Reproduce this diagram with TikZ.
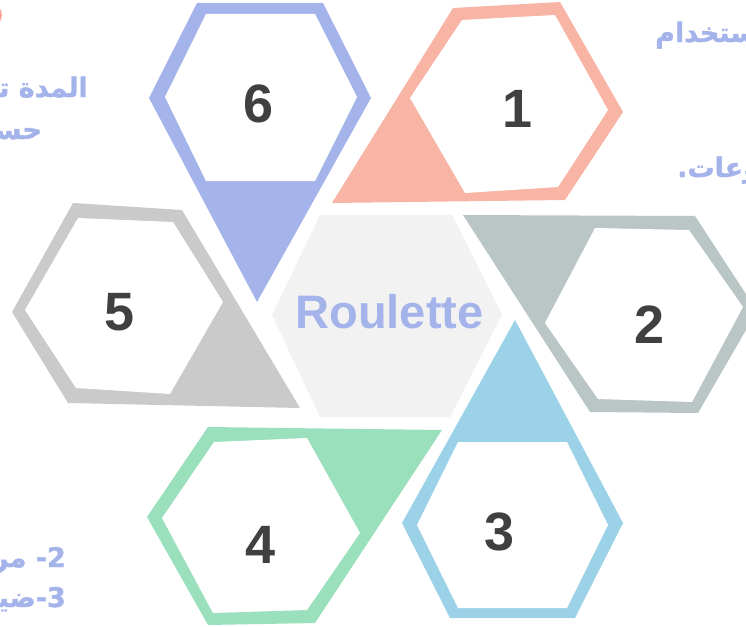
\documentclass[tikz,border=0pt]{standalone}
\usepackage{fontspec}
\setmainfont{Liberation Sans}
\newfontfamily\arabicfont[Script=Arabic,FakeBold=1.5]{DejaVu Sans}
\TeXXeTstate=1
\usetikzlibrary{positioning}
\definecolor{hexblue}{HTML}{A4B4EA}
\definecolor{hexsalmon}{HTML}{F8B4A4}
\definecolor{hexslate}{HTML}{BAC6C6}
\definecolor{hexsky}{HTML}{9CD2E8}
\definecolor{hexmint}{HTML}{9AE0BC}
\definecolor{hexgray}{HTML}{CACACA}
\definecolor{hubgray}{HTML}{F2F2F2}
\definecolor{numdark}{HTML}{404040}
\definecolor{redtip}{HTML}{F6A59A}

\begin{document}
\begin{tikzpicture}[x=1pt,y=-1pt,
  num/.style={anchor=base,text=numdark,font=\fontsize{54}{54}\selectfont\bfseries},
  hub/.style={anchor=base,text=hexblue,font=\fontsize{47}{47}\selectfont\bfseries},
  note/.style={inner sep=0pt,text=hexblue,font=\arabicfont\fontsize{27}{27}\selectfont\bfseries}
]
  \useasboundingbox (0,0) rectangle (746,626);
  \clip (0,0) rectangle (746,626);

  % centre hexagon
  \fill[hubgray] (320,215) -- (452,215) -- (502,315) -- (450,417) -- (320,417) -- (272,315) -- cycle;
  \node[hub] (roulette) at (389.5,328) {Roulette};

  % 1
  \fill[hexsalmon] (453,8) -- (560,2) -- (623,112) -- (565,200) -- (332,203) -- cycle;
  \fill[white] (462,20) -- (555,15) -- (608,110) -- (558,187) -- (465,193) -- (410,98) -- cycle;
  \node[num] (n1) at (518,127) {1};

  % 2
  \fill[hexslate] (463,215) -- (695,216) -- (757,311) -- (698,413) -- (590,412) -- cycle;
  \fill[white] (595,228) -- (689,230) -- (743,307) -- (692,402) -- (598,399) -- (545,323) -- cycle;
  \node[num] (n2) at (650,343) {2};

  % 3
  \fill[hexsky] (515,320) -- (623,523) -- (575,618) -- (450,618) -- (402,523) -- cycle;
  \fill[white] (458,442) -- (567,442) -- (608,525) -- (567,608) -- (458,608) -- (417,525) -- cycle;
  \node[num] (n3) at (500,550) {3};

  % 4
  \fill[hexmint] (208,427) -- (442,430) -- (315,623) -- (208,625) -- (147,517) -- cycle;
  \fill[white] (214,442) -- (307,438) -- (360,533) -- (307,610) -- (213,613) -- (162,518) -- cycle;
  \node[num] (n4) at (261,563) {4};

  % 5
  \fill[hexgray] (73,203) -- (182,210) -- (300,408) -- (68,403) -- (12,312) -- cycle;
  \fill[white] (78,218) -- (173,222) -- (223,302) -- (170,394) -- (76,388) -- (25,310) -- cycle;
  \node[num] (n5) at (119.5,330) {5};

  % 6
  \fill[hexblue] (197,3) -- (323,3) -- (371,98) -- (257,302) -- (149,98) -- cycle;
  \fill[white] (206,14) -- (315,14) -- (357,97) -- (315,181) -- (206,181) -- (165,97) -- cycle;
  \node[num] (n6) at (258.5,122) {6};

  % side notes, cut by the frame
  \fill[redtip] (-10,15) circle (12);
  \node[note,anchor=base east] (noteTLa) at (88,97) {\beginR المدة تختلف\endR};
  \node[note,anchor=base east] (noteTLb) at (42,139) {\beginR حسب\endR};
  \node[note,anchor=base west] (noteTRa) at (655,42) {\beginR باستخدام\endR};
  \node[note,anchor=base west] (noteTRb) at (677,177) {\beginR المجموعات.\endR};
  \node[note,anchor=base east] (noteBLa) at (66,567) {\beginR 2- مرحلة\endR};
  \node[note,anchor=base east] (noteBLb) at (66,607) {\beginR 3-ضيق\endR};
\end{tikzpicture}
\end{document}
